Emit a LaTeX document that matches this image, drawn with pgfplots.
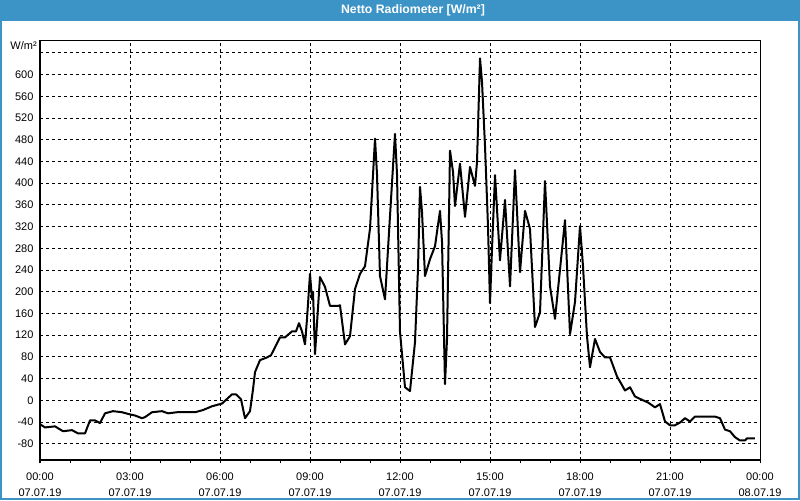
\documentclass[border=0pt]{standalone}
\usepackage{fontspec}
\setmainfont{Liberation Sans}
\usepackage{pgfplots}
\pgfplotsset{compat=1.18}
\definecolor{barblue}{RGB}{60,147,198}
\begin{document}
\begin{tikzpicture}[x=0.75pt,y=0.75pt]
\useasboundingbox (0,0) rectangle (800,500);
\fill[white] (0,0) rectangle (800,500);
\fill[barblue] (0,479) rectangle (800,500);
\draw[barblue, line width=1.5pt] (1,1) rectangle (799,499);
\node[font=\bfseries\fontsize{9.2}{11}\selectfont, text=white] at (413,490) {Netto Radiometer [W/m²]};
\node[anchor=east, font=\fontsize{8.25}{10}\selectfont, inner sep=0pt] at (37,454) {W/m²};
\begin{axis}[
  at={(30pt,30pt)}, anchor=south west,
  scale only axis, width=540pt, height=314.25pt,
  xmin=0, xmax=24, ymin=-110, ymax=662,
  xtick={0,3,...,24},
  minor xtick={1,2,4,5,7,8,10,11,13,14,16,17,19,20,22,23},
  xticklabels={{00:00\\07.07.19},{03:00\\07.07.19},{06:00\\07.07.19},{09:00\\07.07.19},{12:00\\07.07.19},{15:00\\07.07.19},{18:00\\07.07.19},{21:00\\07.07.19},{00:00\\08.07.19}},
  ytick={-80,-40,0,40,80,120,160,200,240,280,320,360,400,440,480,520,560,600,640},
  yticklabels={-80,-40,0,40,80,120,160,200,240,280,320,360,400,440,480,520,560,600,{}},
  grid=major,
  major grid style={black, line width=0.75pt, dash pattern=on 2.25pt off 2.25pt},
  axis line style={black, line width=0.75pt},
  tick align=outside,
  tick pos=left,
  major tick length=2.5pt, minor tick length=2.5pt,
  xtick style={black, line width=0.75pt},
  minor x tick style={black, line width=0.75pt},
  ytick style={draw=none},
  xticklabel style={align=center, font=\fontsize{8.25}{12}\selectfont, inner sep=0pt, yshift=-7pt},
  yticklabel style={font=\fontsize{8.25}{10}\selectfont, inner sep=0pt, xshift=-2.25pt},
]
\addplot[black, line width=1.5pt, line join=round] coordinates {
(0,-44) (0.167,-50) (0.5,-48) (0.767,-57) (1.067,-55) (1.267,-61) (1.5,-61)
(1.667,-37) (1.833,-37) (2.0,-42) (2.167,-24) (2.433,-20) (2.733,-22) (3.0,-26)
(3.167,-28) (3.4,-33) (3.5,-31) (3.733,-22) (4.067,-20) (4.267,-24) (4.567,-22)
(5.167,-22) (5.433,-18) (5.733,-11) (6.067,-6) (6.4,11) (6.533,11) (6.7,2)
(6.833,-33) (7.0,-20) (7.1,20) (7.167,52) (7.333,74) (7.567,79) (7.7,83)
(8.0,116) (8.167,116) (8.4,127) (8.533,127) (8.633,142) (8.733,127) (8.833,103)
(8.9,150) (9.0,233) (9.067,186) (9.1,200) (9.167,85) (9.333,227) (9.5,209)
(9.667,174) (9.933,174) (10.0,175) (10.167,103) (10.333,118) (10.5,205)
(10.667,233) (10.833,247) (11.0,316) (11.167,482) (11.233,417) (11.333,229)
(11.5,186) (11.667,340) (11.833,491) (11.9,417) (12.0,126) (12.167,24)
(12.333,17) (12.5,107) (12.6,242) (12.667,393) (12.733,347) (12.833,229)
(13.0,260) (13.167,284) (13.333,349) (13.4,292) (13.5,30) (13.567,113)
(13.667,460) (13.767,421) (13.833,358) (14.0,436) (14.167,338) (14.333,430)
(14.5,395) (14.567,439) (14.667,630) (14.733,587) (14.833,469) (14.933,321)
(15.0,179) (15.067,279) (15.167,415) (15.333,258) (15.5,369) (15.667,210)
(15.833,424) (16.0,236) (16.167,349) (16.333,316) (16.5,135) (16.667,162)
(16.833,404) (17.0,210) (17.167,150) (17.5,332) (17.667,122) (17.833,181)
(18.0,321) (18.1,247) (18.233,118) (18.333,61) (18.5,113) (18.667,89)
(18.833,79) (19.0,79) (19.233,44) (19.4,28) (19.5,18) (19.667,24) (19.833,7)
(20.1,0) (20.267,-4) (20.5,-13) (20.667,-7) (20.833,-39) (21.0,-46) (21.167,-46)
(21.333,-41) (21.5,-33) (21.667,-39) (21.833,-30) (22.5,-30) (22.667,-33)
(22.833,-54) (23.0,-57) (23.167,-68) (23.333,-74) (23.5,-74) (23.567,-70)
(23.833,-70)
};
\end{axis}
\end{tikzpicture}
\end{document}
